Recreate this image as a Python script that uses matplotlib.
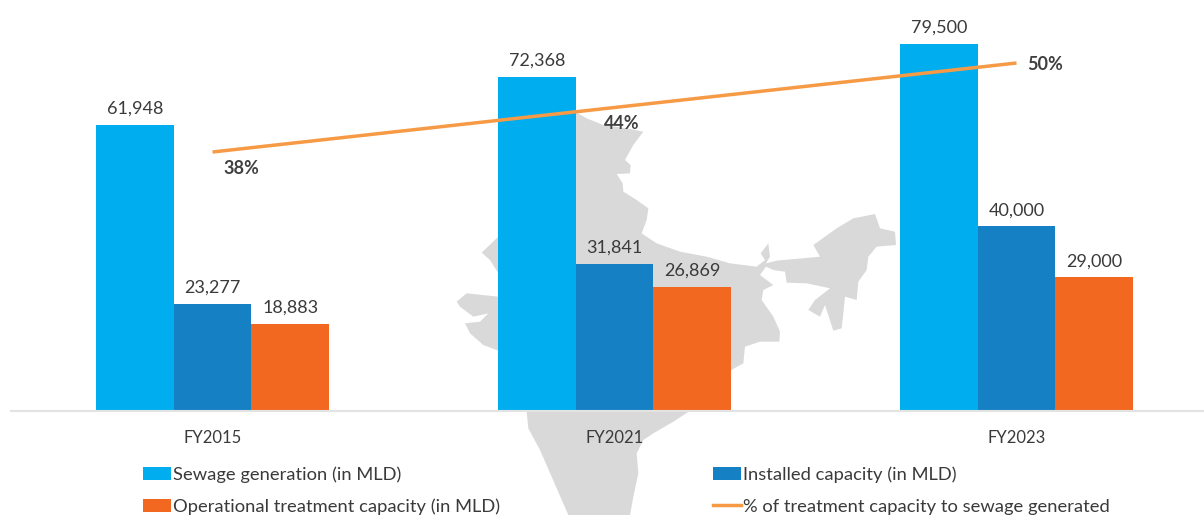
import matplotlib
matplotlib.use("Agg")
import matplotlib.pyplot as plt
from matplotlib.patches import Polygon, Patch
from matplotlib.lines import Line2D
import numpy as np

plt.rcParams['font.family'] = ['Lato', 'DejaVu Sans']

categories = ["FY2015", "FY2021", "FY2023"]
sewage = [61948, 72368, 79500]
installed = [23277, 31841, 40000]
operational = [18883, 26869, 29000]
pct = [38, 44, 50]
series_names = ["Sewage generation (in MLD)", "Installed capacity (in MLD)",
                "Operational treatment capacity (in MLD)", "% of treatment capacity to sewage generated"]
c_sew, c_ins, c_op, c_line = "#00AEEF", "#1580C4", "#F36821", "#F79A46"
txt = "#3A3A3A"

# decorative background map outline (zoom-crop coordinates)
map_zoom = [(405,35),(440,55),(490,75),(560,85),(610,95),(580,135),(555,180),(572,195),(570,220),(530,222),
 (548,250),(550,275),(590,300),(625,325),(620,360),(605,400),(650,430),(720,455),(800,470),(870,490),(950,500),
 (975,480),(962,460),(985,430),(990,470),(978,490),(1010,482),(1140,470),(1120,435),(1190,385),(1240,355),(1305,342),
 (1320,385),(1365,395),(1368,435),(1310,440),(1285,470),(1280,510),(1255,545),(1250,600),(1215,590),(1210,640),
 (1205,685),(1180,692),(1155,615),(1140,650),(1105,630),(1125,600),(1170,565),(1100,550),(1040,548),(1035,515),
 (1000,510),(978,500),(960,525),(1000,555),(970,570),(965,600),(1000,650),(1020,695),(1018,725),(960,725),(915,740),
 (910,790),(870,812),(800,900),(700,965),(640,1000),(610,1020),(590,1060),(595,1120),(580,1190),(570,1245),(385,1245),
 (300,1050),(265,985),(260,935),(175,752),(130,735),(90,700),(75,670),(120,665),(145,640),(100,650),(60,620),(50,605),
 (80,580),(175,590),(175,520),(150,480),(125,458),(175,410),(300,200)]

W, H = 1204, 515
fig = plt.figure(figsize=(W/100, H/100), dpi=100, facecolor="white")

bg = fig.add_axes([0, 0, 1, 1], zorder=0)
bg.set_xlim(0, W); bg.set_ylim(H, 0); bg.axis("off")
bg.add_patch(Polygon([(440+x/3, 100+y/3) for x, y in map_zoom], closed=True, fc="#D9D9D9", ec="none"))

ax = fig.add_axes([0, 0, 1, 1], zorder=1)
ax.patch.set_alpha(0)
base, cx0, spacing = 411, 212.5, 402
py = 367/79500
ax.set_xlim(-cx0/spacing, (W-cx0)/spacing)
ax.set_ylim(-(H-base)/py, base/py)
x = np.arange(3)
w = 0.193
for off, vals, col in [(-w, sewage, c_sew), (0, installed, c_ins), (w, operational, c_op)]:
    bars = ax.bar(x+off, vals, w, color=col, zorder=2)
    for b, v in zip(bars, vals):
        ax.annotate(f"{v:,}", (b.get_x()+b.get_width()/2, v), xytext=(0, 8), textcoords="offset pixels",
                    ha="center", va="bottom", fontsize=13, color=txt, zorder=5)
for s in ["top", "left", "right"]:
    ax.spines[s].set_visible(False)
ax.spines["bottom"].set_position(("data", 0))
ax.spines["bottom"].set_color("#E3E3E3")
ax.spines["bottom"].set_linewidth(1.5)
ax.spines["bottom"].set_bounds((11-cx0)/spacing, (W-cx0)/spacing)
ax.set_yticks([])
ax.set_xticks(x, categories, fontsize=12, color=txt)
ax.tick_params(axis="x", length=0, pad=14)

ax2 = fig.add_axes([0, 0, 1, 1], zorder=3, sharex=ax)
ax2.patch.set_alpha(0)
ax2.axis("off")
k, c0 = 89/12, 259-38*89/12
ax2.set_ylim((-(H-base)-c0)/k, (base-c0)/k)
ax2.plot(x, pct, color=c_line, lw=2.5, solid_capstyle="butt")
offs = [(29, -17), (7, -16), (29, -2)]
for xi, p, o in zip(x, pct, offs):
    ax2.annotate(f"{p}%", (xi, p), xytext=o, textcoords="offset pixels", ha="center", va="center",
                 fontsize=13, fontweight="bold", color="#404040")

handles = [Patch(fc=c_sew), Patch(fc=c_op), Patch(fc=c_ins), Line2D([], [], color=c_line, lw=2.5)]
labels = [series_names[0], series_names[2], series_names[1], series_names[3]]
ax2.legend(handles, labels, ncol=2, frameon=False, loc="upper left",
           bbox_to_anchor=(143/W, 1-466.5/H), bbox_transform=fig.transFigure, borderaxespad=0, borderpad=0,
           handlelength=1.53, handleheight=0.7, handletextpad=0.11, labelspacing=0.85, columnspacing=11.6,
           fontsize=13.2, labelcolor=txt)

fig.savefig("out.png", dpi=100)
